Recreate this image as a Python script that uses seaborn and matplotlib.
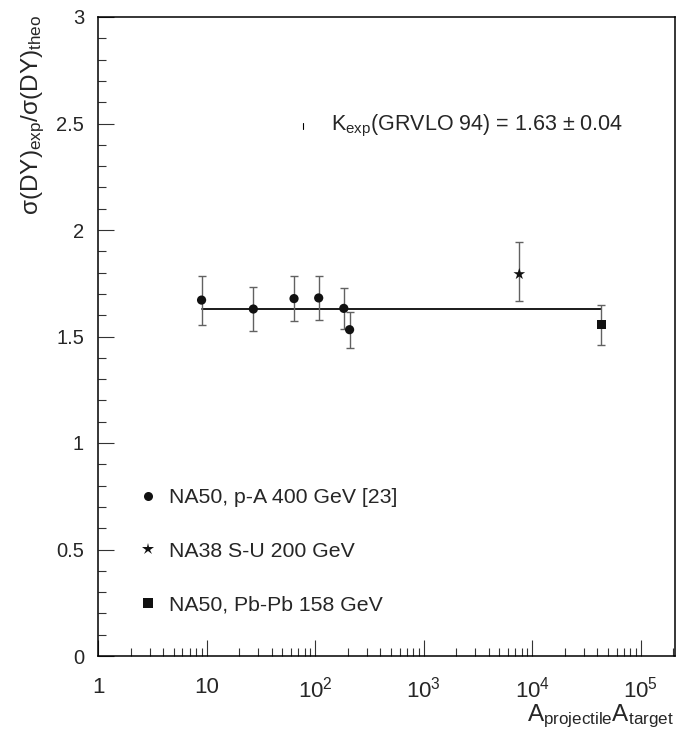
import numpy as np
import pandas as pd
import matplotlib
matplotlib.use("Agg")
import matplotlib.pyplot as plt
import seaborn as sns
from matplotlib.lines import Line2D
from matplotlib.ticker import LogLocator, MultipleLocator, NullFormatter, FixedLocator, FixedFormatter

# NA50 p-A 400 GeV (Be, Al, Cu, Ag, W, Pb targets)
pa_AB = [9, 27, 64, 108, 184, 208]
pa_ratio = [1.671, 1.629, 1.678, 1.681, 1.632, 1.532]
pa_err = [0.115, 0.105, 0.104, 0.104, 0.098, 0.084]

# NA38 S-U 200 GeV
su_AB = [7616]
su_ratio = [1.793]
su_err_lo = [0.125]
su_err_hi = [0.149]

# NA50 Pb-Pb 158 GeV
pbpb_AB = [43264]
pbpb_ratio = [1.555]
pbpb_err = [0.095]

# fitted K factor (GRVLO 94)
k_fit = 1.63
k_fit_err = 0.04

series_labels = ["NA50, p-A 400 GeV [23]", "NA38 S-U 200 GeV", "NA50, Pb-Pb 158 GeV"]
series_markers = ["o", "*", "s"]

x_tick_values = [1, 10, 100, 1000, 10000, 100000]
x_tick_labels = ["1", "10", "10$^{2}$", "10$^{3}$", "10$^{4}$", "10$^{5}$"]
y_tick_values = [0, 0.5, 1, 1.5, 2, 2.5, 3]
y_tick_labels = ["0", "0.5", "1", "1.5", "2", "2.5", "3"]

sns.set_theme(style="ticks")
plt.rcParams["font.family"] = ["Liberation Sans", "DejaVu Sans"]
plt.rcParams["mathtext.fontset"] = "custom"
plt.rcParams["mathtext.rm"] = "Liberation Sans"
plt.rcParams["mathtext.it"] = "Liberation Sans"
plt.rcParams["mathtext.bf"] = "Liberation Sans:bold"

df = pd.DataFrame({
    "AB": pa_AB + su_AB + pbpb_AB,
    "ratio": pa_ratio + su_ratio + pbpb_ratio,
    "err_lo": pa_err + su_err_lo + pbpb_err,
    "err_hi": pa_err + su_err_hi + pbpb_err,
    "series": [series_labels[0]] * len(pa_AB) + [series_labels[1]] * len(su_AB)
              + [series_labels[2]] * len(pbpb_AB),
})

fig = plt.figure(figsize=(6.76, 7.32), dpi=100)
ax = fig.add_axes([98 / 676, 76 / 732, 576.5 / 676, 639 / 732])

# horizontal fit line across the measured range
sns.lineplot(x=[pa_AB[0], pbpb_AB[0]], y=[k_fit, k_fit], ax=ax,
             color="#1a1a1a", lw=1.4, zorder=2)

# error bars
ax.errorbar(df["AB"], df["ratio"], yerr=[df["err_lo"], df["err_hi"]],
            fmt="none", ecolor="0.38", elinewidth=1.0, capsize=2.6,
            capthick=1.0, zorder=3)

# data points
sns.scatterplot(data=df, x="AB", y="ratio", style="series", size="series",
                markers=dict(zip(series_labels, series_markers)),
                sizes={series_labels[0]: 44, series_labels[1]: 78, series_labels[2]: 40},
                color="#111111", edgecolor="none", linewidth=0,
                legend=False, ax=ax, zorder=4)

ax.set_xscale("log")
ax.set_xlim(1, 2.05e5)
ax.set_ylim(0, 3)

ax.xaxis.set_major_locator(FixedLocator(x_tick_values))
ax.xaxis.set_major_formatter(FixedFormatter(x_tick_labels))
ax.xaxis.set_minor_locator(LogLocator(base=10, subs=np.arange(2, 10), numticks=20))
ax.xaxis.set_minor_formatter(NullFormatter())
ax.yaxis.set_major_locator(FixedLocator(y_tick_values))
ax.yaxis.set_major_formatter(FixedFormatter(y_tick_labels))
ax.yaxis.set_minor_locator(MultipleLocator(0.1))

ax.tick_params(which="major", direction="in", length=11.5, width=0.8,
               color="#333333", top=False, right=False)
ax.tick_params(which="minor", direction="in", length=5.6, width=0.8,
               color="#333333", top=False, right=False)
ax.tick_params(axis="x", which="major", pad=15, labelsize=16)
ax.tick_params(axis="y", which="major", pad=10, labelsize=14.5)

for side in ["left", "bottom", "right", "top"]:
    ax.spines[side].set_visible(True)
    ax.spines[side].set_color("black")
    ax.spines[side].set_linewidth(1.1)

ax.set_xlabel("A$_{\\rm projectile}$A$_{\\rm target}$", fontsize=17.5, loc="right")
ax.xaxis.set_label_coords(0.999, -0.073)
ax.set_ylabel("σ(DY)$_{\\rm exp}$/σ(DY)$_{\\rm theo}$", fontsize=17.6, loc="top")
ax.yaxis.set_label_coords(-0.088, 1.004)

# fit result annotation with its short line sample
ax.plot([0.355, 0.355], [0.824, 0.834], color="black", lw=0.8, transform=ax.transAxes)
ax.text(0.405, 0.829,
        f"K$_{{\\rm exp}}$(GRVLO 94) = {k_fit:.2f} ± {k_fit_err:.2f}",
        transform=ax.transAxes, va="center", ha="left", fontsize=15.5)

handles = [Line2D([], [], linestyle="none", marker=m, color="#111111",
                  markersize=(9 if m == "*" else 6.5), markeredgewidth=0)
           for m in series_markers]
ax.legend(handles, series_labels, loc="upper left", bbox_to_anchor=(0.072, 0.263),
          frameon=False, fontsize=15.3, handlelength=0.8, handletextpad=0.6,
          labelspacing=1.64, borderpad=0, borderaxespad=0)

fig.savefig("out.png", dpi=100)
